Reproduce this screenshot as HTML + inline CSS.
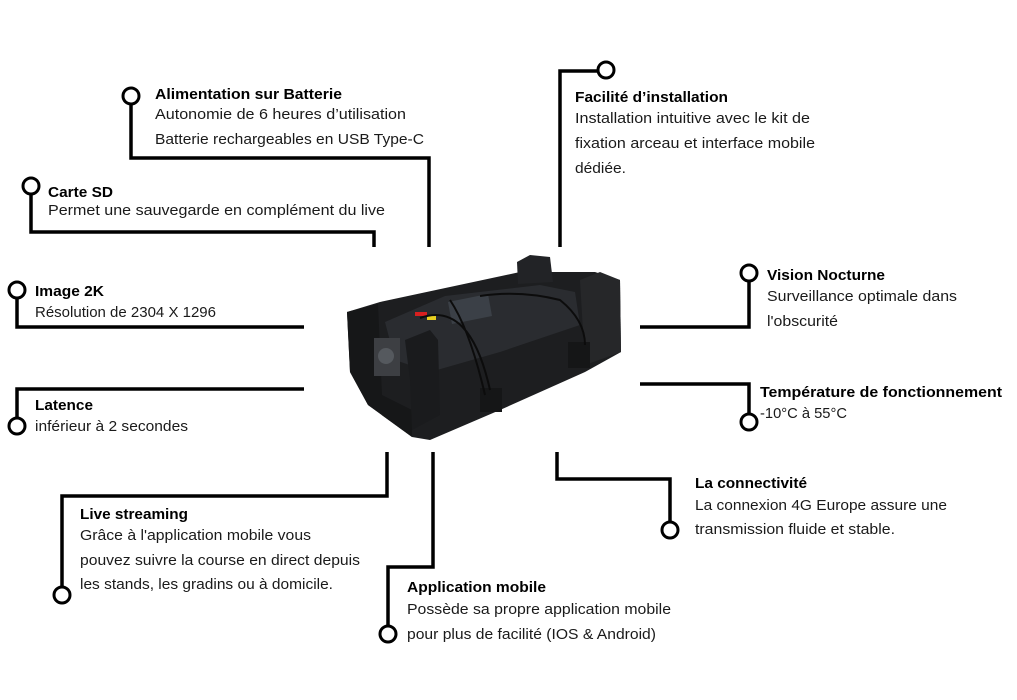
<!DOCTYPE html>
<html><head><meta charset="utf-8"><style>
html,body{margin:0;padding:0;background:#fff;}
svg{display:block;}
text{font-family:"Liberation Sans",sans-serif;fill:#1a1a1a;font-size:15px;}
.t{font-weight:bold;fill:#000;font-size:14.5px;}
</style></head><body>
<svg width="1017" height="700" viewBox="0 0 1017 700" xmlns="http://www.w3.org/2000/svg">
<g fill="none" stroke="#000" stroke-width="3.5" stroke-linejoin="miter">
<polyline points="131,104 131,158 429,158 429,247"/>
<polyline points="31,194 31,232 374,232 374,247"/>
<polyline points="17,298 17,327 304,327"/>
<polyline points="304,389 17,389 17,418"/>
<polyline points="387,452 387,496 62,496 62,587"/>
<polyline points="433,452 433,567 388,567 388,626"/>
<polyline points="557,452 557,479 670,479 670,522"/>
<polyline points="640,384 749,384 749,414"/>
<polyline points="640,327 749,327 749,281"/>
<polyline points="560,247 560,71 598,71"/>
</g>
<g fill="#fff" stroke="#000" stroke-width="3">
<circle cx="131" cy="96" r="8"/>
<circle cx="31" cy="186" r="8"/>
<circle cx="17" cy="290" r="8"/>
<circle cx="17" cy="426" r="8"/>
<circle cx="62" cy="595" r="8"/>
<circle cx="388" cy="634" r="8"/>
<circle cx="670" cy="530" r="8"/>
<circle cx="749" cy="422" r="8"/>
<circle cx="749" cy="273" r="8"/>
<circle cx="606" cy="70" r="8"/>
</g>
<!-- device -->
<g>
<polygon points="347,312 380,302 520,272 595,272 620,280 621,352 585,372 500,410 430,440 412,437 368,405 350,372" fill="#1d1e20"/>
<polygon points="517,262 530,255 550,257 553,282 518,284" fill="#222326"/>
<polygon points="580,280 600,272 620,280 621,352 585,365" fill="#262729"/>
<polygon points="385,322 445,296 540,285 575,292 580,325 500,352 430,372 395,360" fill="#2a2c30"/>
<polygon points="448,302 488,294 492,316 452,324" fill="#3b4047"/>
<polygon points="347,312 378,304 382,395 412,410 412,437 368,405 350,372" fill="#161718"/>
<polygon points="405,340 430,330 438,340 440,415 412,430 410,380" fill="#1a1b1d"/>
<rect x="374" y="338" width="26" height="38" fill="#3d3f43"/>
<circle cx="386" cy="356" r="8" fill="#55595e"/>
<rect x="415" y="312" width="12" height="4" fill="#d82020"/>
<rect x="427" y="316" width="9" height="4" fill="#e8d020"/>
<rect x="480" y="388" width="22" height="24" fill="#151617"/>
<rect x="568" y="342" width="22" height="26" fill="#151617"/>
<path d="M420 318 Q470 300 490 390 M480 296 Q520 290 560 300 Q585 320 585 345 M450 300 Q470 330 485 395" stroke="#0c0c0c" stroke-width="2" fill="none"/>
</g>
<!-- labels -->
<g>
<text class="t" x="155" y="99" textLength="187" lengthAdjust="spacingAndGlyphs">Alimentation sur Batterie</text>
<text x="155" y="119" textLength="251" lengthAdjust="spacingAndGlyphs">Autonomie de 6 heures d’utilisation</text>
<text x="155" y="144" textLength="269" lengthAdjust="spacingAndGlyphs">Batterie rechargeables en USB Type-C</text>
<text class="t" x="48" y="197" textLength="65" lengthAdjust="spacingAndGlyphs">Carte SD</text>
<text x="48" y="215" textLength="337" lengthAdjust="spacingAndGlyphs">Permet une sauvegarde en complément du live</text>
<text class="t" x="35" y="296" textLength="69" lengthAdjust="spacingAndGlyphs">Image 2K</text>
<text x="35" y="317" textLength="181" lengthAdjust="spacingAndGlyphs">Résolution de 2304 X 1296</text>
<text class="t" x="35" y="410" textLength="58" lengthAdjust="spacingAndGlyphs">Latence</text>
<text x="35" y="431" textLength="153" lengthAdjust="spacingAndGlyphs">inférieur à 2 secondes</text>
<text class="t" x="80" y="519" textLength="108" lengthAdjust="spacingAndGlyphs">Live streaming</text>
<text x="80" y="540" textLength="231" lengthAdjust="spacingAndGlyphs">Grâce à l'application mobile vous</text>
<text x="80" y="565" textLength="280" lengthAdjust="spacingAndGlyphs">pouvez suivre la course en direct depuis</text>
<text x="80" y="589" textLength="253" lengthAdjust="spacingAndGlyphs">les stands, les gradins ou à domicile.</text>
<text class="t" x="407" y="592" textLength="139" lengthAdjust="spacingAndGlyphs">Application mobile</text>
<text x="407" y="614" textLength="264" lengthAdjust="spacingAndGlyphs">Possède sa propre application mobile</text>
<text x="407" y="639" textLength="249" lengthAdjust="spacingAndGlyphs">pour plus de facilité (IOS &amp; Android)</text>
<text class="t" x="695" y="488" textLength="112" lengthAdjust="spacingAndGlyphs">La connectivité</text>
<text x="695" y="510" textLength="252" lengthAdjust="spacingAndGlyphs">La connexion 4G Europe assure une</text>
<text x="695" y="534" textLength="200" lengthAdjust="spacingAndGlyphs">transmission fluide et stable.</text>
<text class="t" x="760" y="397" textLength="242" lengthAdjust="spacingAndGlyphs">Température de fonctionnement</text>
<text x="760" y="418" textLength="87" lengthAdjust="spacingAndGlyphs">-10°C à 55°C</text>
<text class="t" x="767" y="280" textLength="118" lengthAdjust="spacingAndGlyphs">Vision Nocturne</text>
<text x="767" y="301" textLength="190" lengthAdjust="spacingAndGlyphs">Surveillance optimale dans</text>
<text x="767" y="326" textLength="71" lengthAdjust="spacingAndGlyphs">l'obscurité</text>
<text class="t" x="575" y="102" textLength="153" lengthAdjust="spacingAndGlyphs">Facilité d’installation</text>
<text x="575" y="123" textLength="235" lengthAdjust="spacingAndGlyphs">Installation intuitive avec le kit de</text>
<text x="575" y="148" textLength="240" lengthAdjust="spacingAndGlyphs">fixation arceau et interface mobile</text>
<text x="575" y="173" textLength="51" lengthAdjust="spacingAndGlyphs">dédiée.</text>
</g>
</svg>
</body></html>
